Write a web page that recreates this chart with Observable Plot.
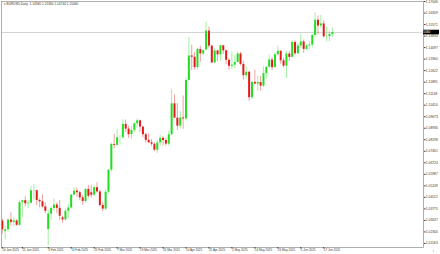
<!DOCTYPE html>
<html>
<head>
<meta charset="utf-8">
<script src="https://cdn.jsdelivr.net/npm/d3@7"></script>
<script src="https://cdn.jsdelivr.net/npm/@observablehq/plot@0.6"></script>
<style>
  html, body { margin: 0; padding: 0; background: #fff; }
  svg { display: block; }
</style>
</head>
<body>
<div id="chart"></div>
<script>
// ---- data (EURUSD, daily bars, 10 Jan 2025 .. 20 Jun 2025) ----
const symbolTitle = "\u25BE EURUSD,Daily  1.14940 1.15360 1.14740 1.15060";

const open = [
  1.0300,1.0232,1.0244,1.0306,1.0291,1.0300,1.0272,1.0417,1.0430,1.0410,1.0414,1.0493,1.0494,1.0431,1.0423,1.0390,
  1.0245,1.0344,1.0380,1.0402,1.0381,1.0320,1.0307,1.0362,1.0383,1.0466,1.0491,1.0481,1.0448,1.0425,1.0502,1.0480,1.0465,1.0513,1.0486,1.0399,
  1.0376,1.0484,1.0625,1.0790,1.0784,1.0833,1.0833,1.0918,1.0888,1.0852,1.0880,1.0922,1.0941,1.0901,1.0852,1.0816,1.0800,1.0791,1.0753,1.0799,1.0829,
  1.0815,1.0792,1.0852,1.1050,1.0958,1.0907,1.0959,1.0953,1.1199,1.1356,1.1348,1.1282,1.1397,1.1369,1.1395,1.1515,1.1419,1.1311,1.1388,1.1363,1.1421,1.1389,
  1.1328,1.1290,1.1297,1.1314,1.1369,1.1302,1.1230,1.1252,1.1089,1.1187,1.1176,1.1186,1.1163,1.1243,1.1284,1.1330,1.1281,1.1364,1.1386,1.1325,1.1291,1.1368,
  1.1347,1.1442,1.1370,1.1420,1.1446,1.1398,1.1420,1.1426,1.1487,1.1585,1.1548,1.1561,1.1479,1.1480,1.1494
];
const high = [
  1.0314,1.0268,1.0313,1.0353,1.0320,1.0308,1.0433,1.0433,1.0455,1.0430,1.0522,1.0533,1.0497,1.0442,1.0468,1.0416,
  1.0369,1.0390,1.0442,1.0416,1.0431,1.0331,1.0376,1.0406,1.0470,1.0514,1.0513,1.0491,1.0463,1.0505,1.0528,1.0528,1.0524,1.0545,1.0498,1.0419,
  1.0500,1.0630,1.0798,1.0854,1.0888,1.0847,1.0947,1.0946,1.0906,1.0906,1.0928,1.0955,1.0946,1.0904,1.0862,1.0858,1.0821,1.0800,1.0816,1.0848,1.0840,
  1.0830,1.0875,1.1144,1.1107,1.1052,1.1001,1.1100,1.1215,1.1474,1.1424,1.1379,1.1405,1.1418,1.1395,1.1573,1.1541,1.1424,1.1402,1.1393,1.1425,1.1425,1.1394,
  1.1337,1.1380,1.1359,1.1379,1.1380,1.1322,1.1287,1.1255,1.1193,1.1266,1.1226,1.1226,1.1287,1.1285,1.1363,1.1345,1.1376,1.1419,1.1389,1.1341,1.1385,1.1385,
  1.1454,1.1454,1.1435,1.1495,1.1457,1.1430,1.1451,1.1495,1.1632,1.1613,1.1615,1.1580,1.1541,1.1515,1.1536
];
const low = [
  1.0215,1.0178,1.0229,1.0266,1.0263,1.0266,1.0267,1.0321,1.0390,1.0378,1.0408,1.0434,1.0397,1.0384,1.0382,1.0348,
  1.0141,1.0305,1.0362,1.0347,1.0305,1.0286,1.0300,1.0316,1.0377,1.0461,1.0451,1.0430,1.0400,1.0414,1.0445,1.0446,1.0456,1.0477,1.0390,1.0359,
  1.0366,1.0473,1.0613,1.0762,1.0778,1.0785,1.0823,1.0866,1.0829,1.0822,1.0863,1.0899,1.0868,1.0833,1.0797,1.0797,1.0777,1.0744,1.0733,1.0777,1.0780,
  1.0778,1.0777,1.0845,1.0956,1.0880,1.0890,1.0887,1.0941,1.1195,1.1264,1.1265,1.1265,1.1315,1.1358,1.1390,1.1403,1.1308,1.1310,1.1320,1.1323,1.1366,1.1300,
  1.1265,1.1270,1.1273,1.1311,1.1293,1.1201,1.1208,1.1065,1.1077,1.1172,1.1131,1.1131,1.1154,1.1207,1.1279,1.1262,1.1281,1.1355,1.1303,1.1279,1.1211,1.1321,
  1.1345,1.1357,1.1367,1.1406,1.1373,1.1391,1.1398,1.1406,1.1473,1.1489,1.1531,1.1471,1.1447,1.1448,1.1474
];
const close = [
  1.0243,1.0244,1.0306,1.0291,1.0300,1.0272,1.0417,1.0430,1.0410,1.0414,1.0493,1.0494,1.0431,1.0423,1.0390,1.0362,
  1.0344,1.0380,1.0402,1.0381,1.0330,1.0307,1.0362,1.0383,1.0466,1.0491,1.0481,1.0448,1.0425,1.0502,1.0458,1.0465,1.0513,1.0486,1.0399,1.0376,
  1.0484,1.0625,1.0790,1.0784,1.0833,1.0833,1.0918,1.0888,1.0852,1.0880,1.0922,1.0941,1.0901,1.0852,1.0816,1.0800,1.0791,1.0753,1.0799,1.0829,1.0815,
  1.0792,1.0852,1.1050,1.0958,1.0907,1.0959,1.0953,1.1199,1.1356,1.1348,1.1282,1.1397,1.1369,1.1390,1.1515,1.1419,1.1311,1.1388,1.1363,1.1421,1.1389,1.1328,
  1.1290,1.1297,1.1314,1.1369,1.1302,1.1230,1.1252,1.1089,1.1187,1.1176,1.1186,1.1163,1.1243,1.1284,1.1330,1.1281,1.1364,1.1386,1.1325,1.1291,1.1368,1.1347,
  1.1442,1.1370,1.1420,1.1446,1.1398,1.1420,1.1426,1.1487,1.1585,1.1548,1.1561,1.1479,1.1480,1.1494,1.1506
];

// x-axis date labels (every 8th bar, as in the terminal)
const dateLabels = ["10 Jan 2025","21 Jan 2025","3 Feb 2025","13 Feb 2025","25 Feb 2025","7 Mar 2025",
  "19 Mar 2025","31 Mar 2025","10 Apr 2025","22 Apr 2025","2 May 2025","14 May 2025","26 May 2025","5 Jun 2025","17 Jun 2025"];

// right price-scale labels
const priceLabels = [1.17046,1.16309,1.15571,1.14834,1.14097,1.13360,1.12622,1.11885,1.11148,1.10410,1.09673,
  1.08936,1.08198,1.07461,1.06724,1.05987,1.05249,1.04512,1.03775,1.03037,1.02300,1.01563];

// trading days (weekdays) from 10 Jan to 20 Jun 2025
const dates = d3.utcDays(new Date(Date.UTC(2025,0,10)), new Date(Date.UTC(2025,5,21)))
  .filter(d => d.getUTCDay() !== 0 && d.getUTCDay() !== 6);
const fmtDate = d3.utcFormat("%-d %b %Y");

const bars = dates.map((d, i) => ({i, date: d, o: open[i], h: high[i], l: low[i], c: close[i], up: close[i] >= open[i]}));
const tickIdx = bars.filter(b => dateLabels.includes(fmtDate(b.date))).map(b => b.i);
const lastClose = close[close.length - 1];

const GREEN = "#22dd22";
const RED = "#e31a1a";

const plot = Plot.plot({
  width: 440,
  height: 254,
  marginLeft: 1,
  marginRight: 17,
  marginTop: 1,
  marginBottom: 7,
  style: {background: "#fff", fontFamily: "'Liberation Sans', Arial, sans-serif", overflow: "visible"},
  x: {domain: [-0.28, 146.76], axis: null},
  y: {domain: [1.01302, 1.17046], axis: null},
  marks: [
    Plot.ruleY([lastClose], {stroke: "#c6c6c6", strokeWidth: 0.8}),
    Plot.ruleX(bars, {filter: d => d.up, x: "i", y1: "l", y2: "h", stroke: GREEN, strokeWidth: 0.6, strokeOpacity: 0.7}),
    Plot.ruleX(bars, {filter: d => !d.up, x: "i", y1: "l", y2: "h", stroke: RED, strokeWidth: 0.6, strokeOpacity: 0.7}),
    Plot.ruleX(bars, {filter: d => d.up, x: "i", y1: "o", y2: "c", stroke: GREEN, strokeWidth: 2}),
    Plot.ruleX(bars, {filter: d => !d.up, x: "i", y1: "o", y2: "c", stroke: RED, strokeWidth: 2}),
    Plot.frame({stroke: "#9c9c9c", strokeWidth: 0.8}),
    Plot.axisY({anchor: "right", ticks: priceLabels, tickFormat: d => d.toFixed(5), tickSize: 1.5, tickPadding: 0.8, fontSize: 3.3, color: "#3a3a3a"}),
    Plot.axisX({ticks: tickIdx, tickFormat: i => fmtDate(dates[i]), textAnchor: "start", tickSize: 1.5, tickPadding: 0.3, fontSize: 3, color: "#3a3a3a"}),
    Plot.text([symbolTitle], {frameAnchor: "top-left", dx: 2, dy: 1.5, text: d => d, textAnchor: "start", lineAnchor: "top", fontSize: 3.2, fill: "#333"})
  ]
});

// current price tag on the price scale
const yScale = plot.scale("y");
const xRight = 440 - 17;
const yy = yScale.apply(lastClose);
const svg = d3.select(plot);
svg.append("rect").attr("x", xRight).attr("y", yy - 2.3).attr("width", 16).attr("height", 4.6).attr("fill", "#000");
svg.append("text").attr("x", xRight + 1.5).attr("y", yy).attr("dy", "0.35em")
  .attr("font-size", 3.3).attr("fill", "#fff").attr("font-family", "'Liberation Sans', Arial, sans-serif")
  .text(lastClose.toFixed(5));

document.getElementById("chart").appendChild(plot);
</script>
</body>
</html>
